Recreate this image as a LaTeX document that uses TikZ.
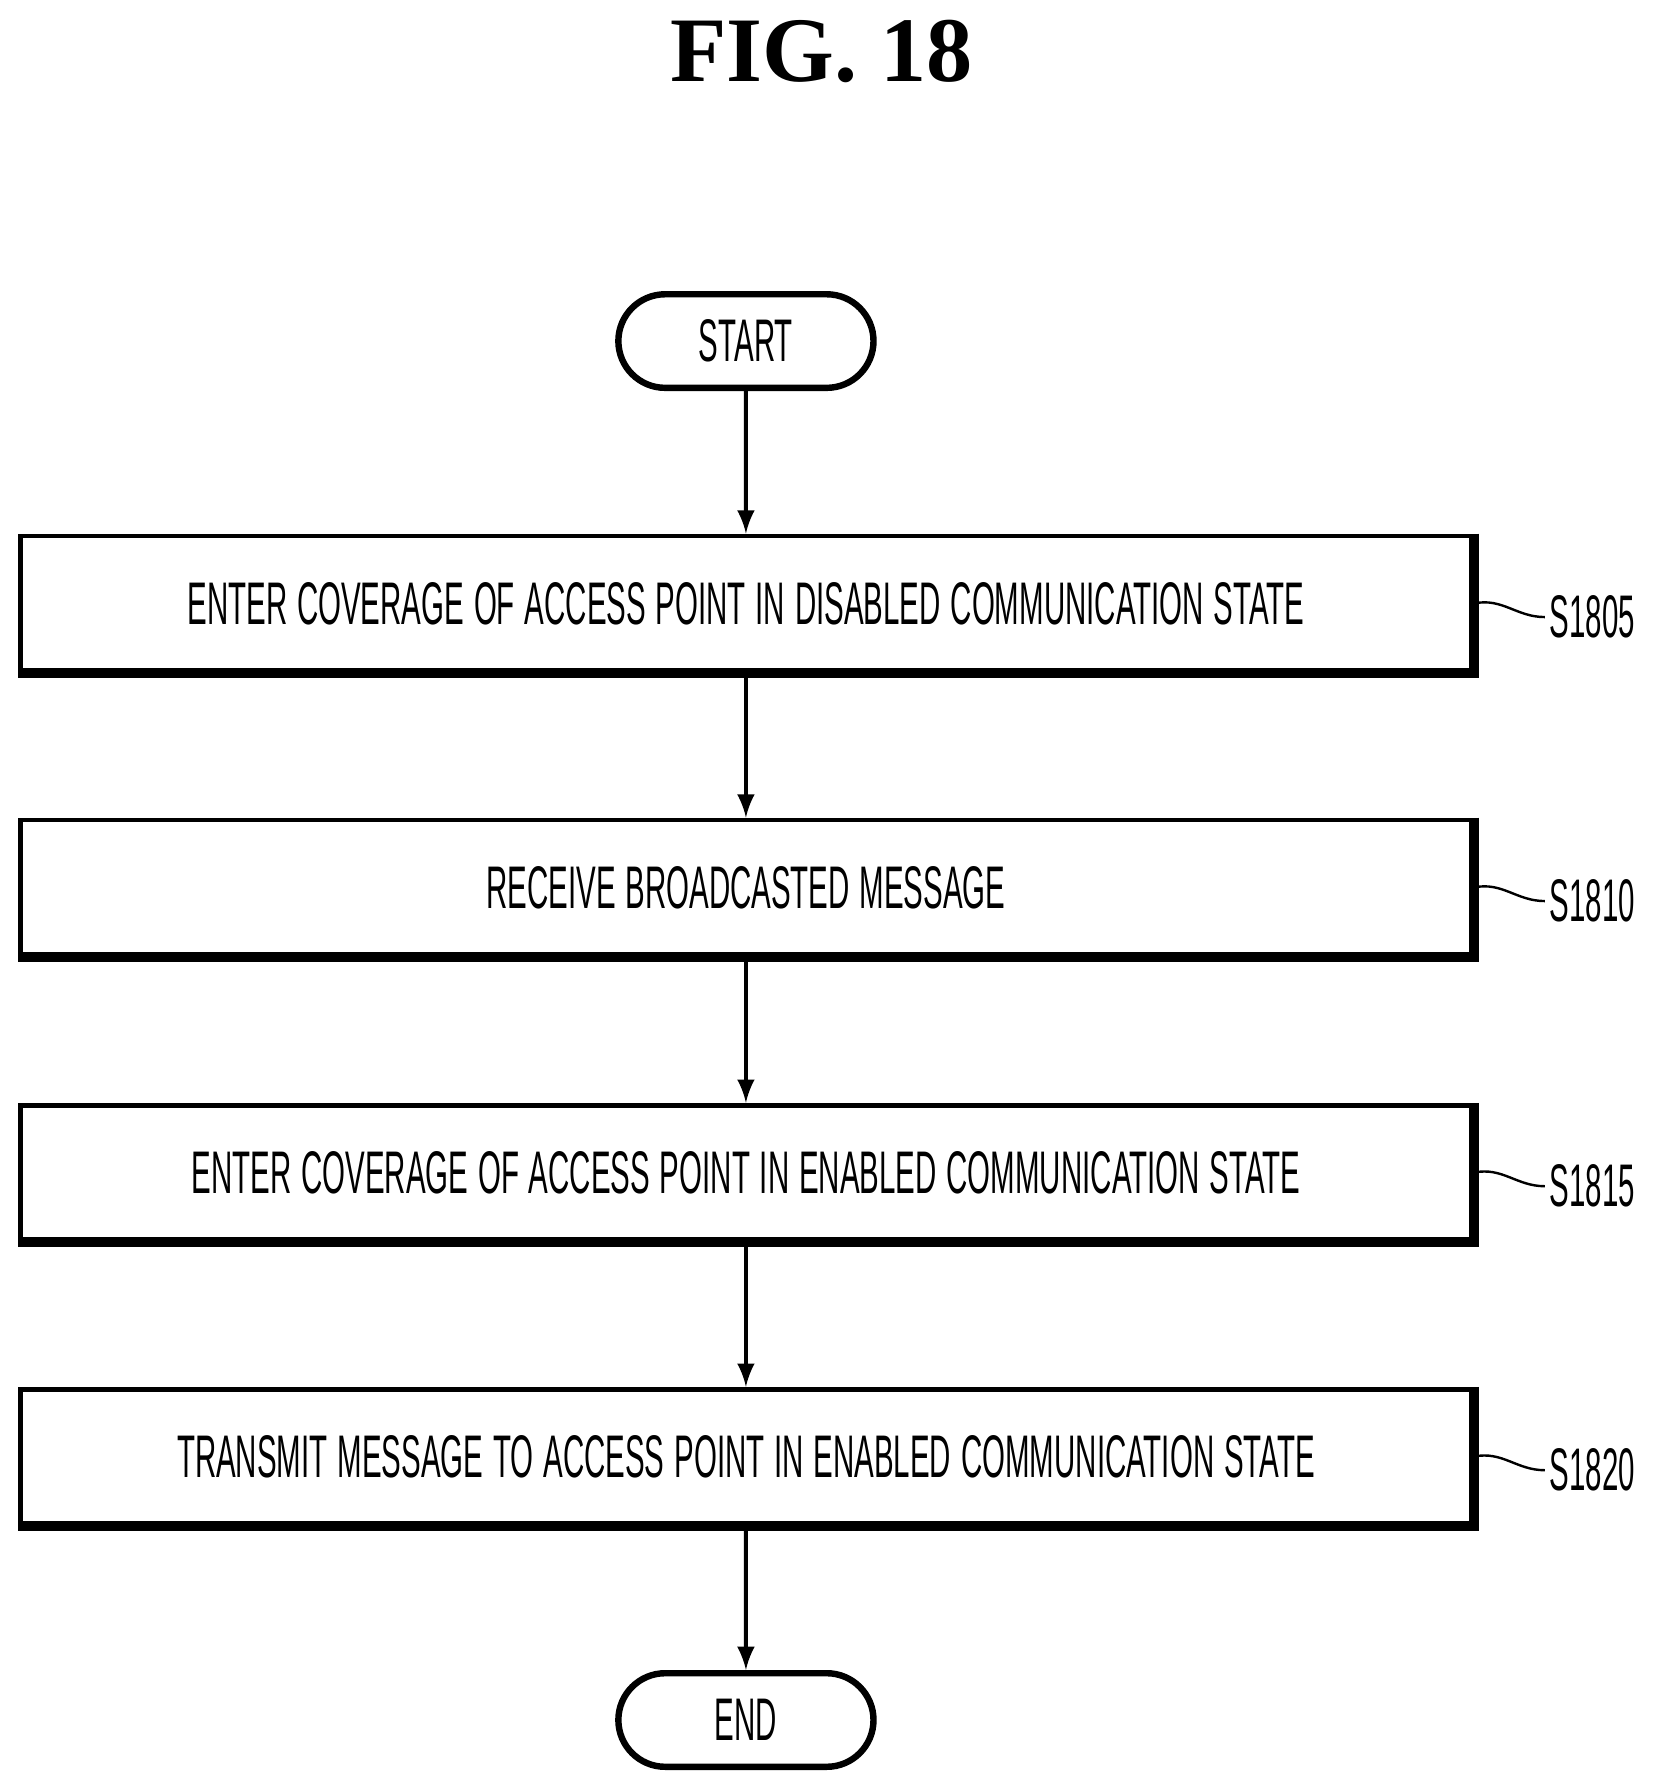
\documentclass[tikz,border=0pt]{standalone}
\usepackage{fontspec}
\setmainfont{Liberation Serif}
\setsansfont{Liberation Sans}
\usetikzlibrary{positioning,shapes.misc}
\newcommand{\nar}[1]{\scalebox{0.49}[1]{\sffamily #1}}
\tikzset{
  stepbox/.style={draw,line width=1.2pt,inner xsep=0pt,text width=12.72cm,align=center,minimum height=1.18cm,font=\fontsize{15}{18}\selectfont},
  term/.style={draw,rounded rectangle,line width=1.6pt,minimum width=2.47cm,minimum height=0.82cm,font=\fontsize{15}{18}\selectfont},
  flow/.style={->,line width=1pt,>=latex},
}
\begin{document}
\begin{tikzpicture}[x=0.01cm,y=-0.01cm]
    \useasboundingbox (0,0) rectangle (1450,1565);
    \node[font=\bfseries\fontsize{23}{26}\selectfont] (title) at (720,45) {FIG. 18};

    \node[term] (start) at (654,299) {\nar{START}};
    \node[stepbox] (s1) at (654,529) {\nar{ENTER COVERAGE OF ACCESS POINT IN DISABLED COMMUNICATION STATE}};
    \node[stepbox] (s2) at (654,778) {\nar{RECEIVE BROADCASTED MESSAGE}};
    \node[stepbox] (s3) at (654,1028) {\nar{ENTER COVERAGE OF ACCESS POINT IN ENABLED COMMUNICATION STATE}};
    \node[stepbox] (s4) at (654,1277) {\nar{TRANSMIT MESSAGE TO ACCESS POINT IN ENABLED COMMUNICATION STATE}};
    \node[term] (end) at (654,1508) {\nar{END}};

    % shadow edges and step labels
    \foreach \b/\l in {s1/S1805,s2/S1810,s3/S1815,s4/S1820}{
        \draw[line width=2.4pt] (\b.north east)--(\b.south east)--(\b.south west);
        \draw[line width=0.6pt] (\b.east) .. controls +(25,-5) and +(-25,0) .. ++(62,12) coordinate (\b c);
        \node[anchor=west,inner sep=1pt,font=\fontsize{15}{18}\selectfont] (\b lbl) at (\b c) {\nar{\l}};
    }

    \draw[flow] (start)--(s1);
    \draw[flow] (s1)--(s2);
    \draw[flow] (s2)--(s3);
    \draw[flow] (s3)--(s4);
    \draw[flow] (s4)--(end);
\end{tikzpicture}
\end{document}
